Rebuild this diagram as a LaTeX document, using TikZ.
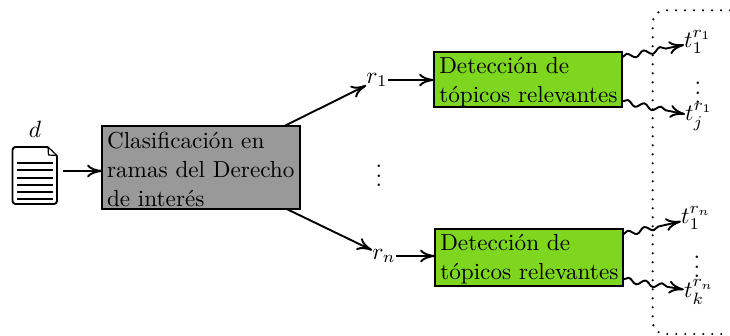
\documentclass[tikz,border=0pt]{standalone}
\usepackage{fontspec}
\usepackage{graphicx}
\usetikzlibrary{decorations.pathmorphing,arrows.meta,calc}
\definecolor{greenfill}{HTML}{7ED61E}
\newcommand\lineL[1]{\hbox to \hsize{#1\hss}}
\newcommand\boxtext[2]{\scalebox{2.32}{\vtop{\hsize=#1\baselineskip=12.5pt\lineskip=0pt\lineskiplimit=-20pt #2}}}
\newcommand\mlab[1]{\scalebox{2.35}{$#1$}}
\tikzset{
  conn/.style={line width=1.9pt,-{Computer Modern Rightarrow[length=15pt,width=13pt]}},
  wavy/.style={conn,decorate,decoration={snake,amplitude=2.6pt,segment length=17pt,post length=17pt}},
  boxbase/.style={draw=black,line width=1.9pt,anchor=north west,inner sep=0pt,outer sep=0pt},
  graybox/.style={boxbase,fill=black!40,minimum width=198pt,minimum height=83pt,text height=22pt,text depth=61pt},
  greenbox/.style={boxbase,fill=greenfill,minimum width=188pt,text height=21pt},
  lab/.style={inner sep=0pt},
}
\begin{document}
\begin{tikzpicture}[x=1pt,y=-1pt]
\useasboundingbox (0,0) rectangle (730,335);
% dotted bracket
\draw[line width=2.4pt,line cap=round,dash pattern=on 0pt off 9pt,rounded corners=12pt] (730,10.3) -- (652.7,10.3) -- (652.7,334) -- (730,334);
% document icon
\draw[line width=1.9pt,rounded corners=3pt,fill=white] (48,147) -- (12.5,147) -- (12.5,204) -- (57,204) -- (57,155.5);
\draw[line width=1.2pt,fill=white,line join=round] (48,147) -- (57,155.5) -- (48.5,155) -- cycle;
\foreach \yy in {162.7,170,177.7,185,192,199}{\draw[line width=1.9pt] (17,\yy) -- (53,\yy);}
\coordinate (docout) at (63,171);
\node[lab] (dlabel) at (35,129) {\mlab{d}};
% boxes
\node[graybox] (cls) at (102,126) {\boxtext{81pt}{\lineL{Clasificación en}\lineL{ramas del Derecho}\lineL{de interés}}};
\node[greenbox,text depth=34pt] (det1) at (434,52) {\boxtext{76.5pt}{\lineL{Detección de}\lineL{tópicos relevantes}}};
\node[greenbox,text depth=36pt] (det2) at (435,229) {\boxtext{76.5pt}{\lineL{Detección de}\lineL{tópicos relevantes}}};
% labels
\node[lab] (r1) at (377,80) {\mlab{r_1}};
\node[lab] (rn) at (384,256) {\mlab{r_n}};
\node[lab] (vd) at (379,169) {\mlab{\vdots}};
\node[lab] (t1) at (698,42) {\mlab{t_1^{r_1}}};
\node[lab] (tj) at (699,117) {\mlab{t_j^{r_1}}};
\node[lab] (tn1) at (696,218) {\mlab{t_1^{r_n}}};
\node[lab] (tk) at (699,292) {\mlab{t_k^{r_n}}};
\node[lab] (vd1) at (698,86) {\mlab{\vdots}};
\node[lab] (vd2) at (697,260) {\mlab{\vdots}};
% connectors
\draw[conn] (docout) -- (cls.west |- docout);
\draw[conn] (cls) -- (r1);
\draw[conn] (cls) -- (rn);
\draw[conn] (r1) -- (det1.west |- r1);
\draw[conn] (rn) -- (det2.west |- rn);
\draw[wavy] ($(det1.east)+(0,-22)$) -- (t1);
\draw[wavy] ($(det1.east)+(0,22)$) -- (tj);
\draw[wavy] ($(det2.east)+(0,-23)$) -- (tn1);
\draw[wavy] ($(det2.east)+(0,22)$) -- (tk);
\end{tikzpicture}
\end{document}
